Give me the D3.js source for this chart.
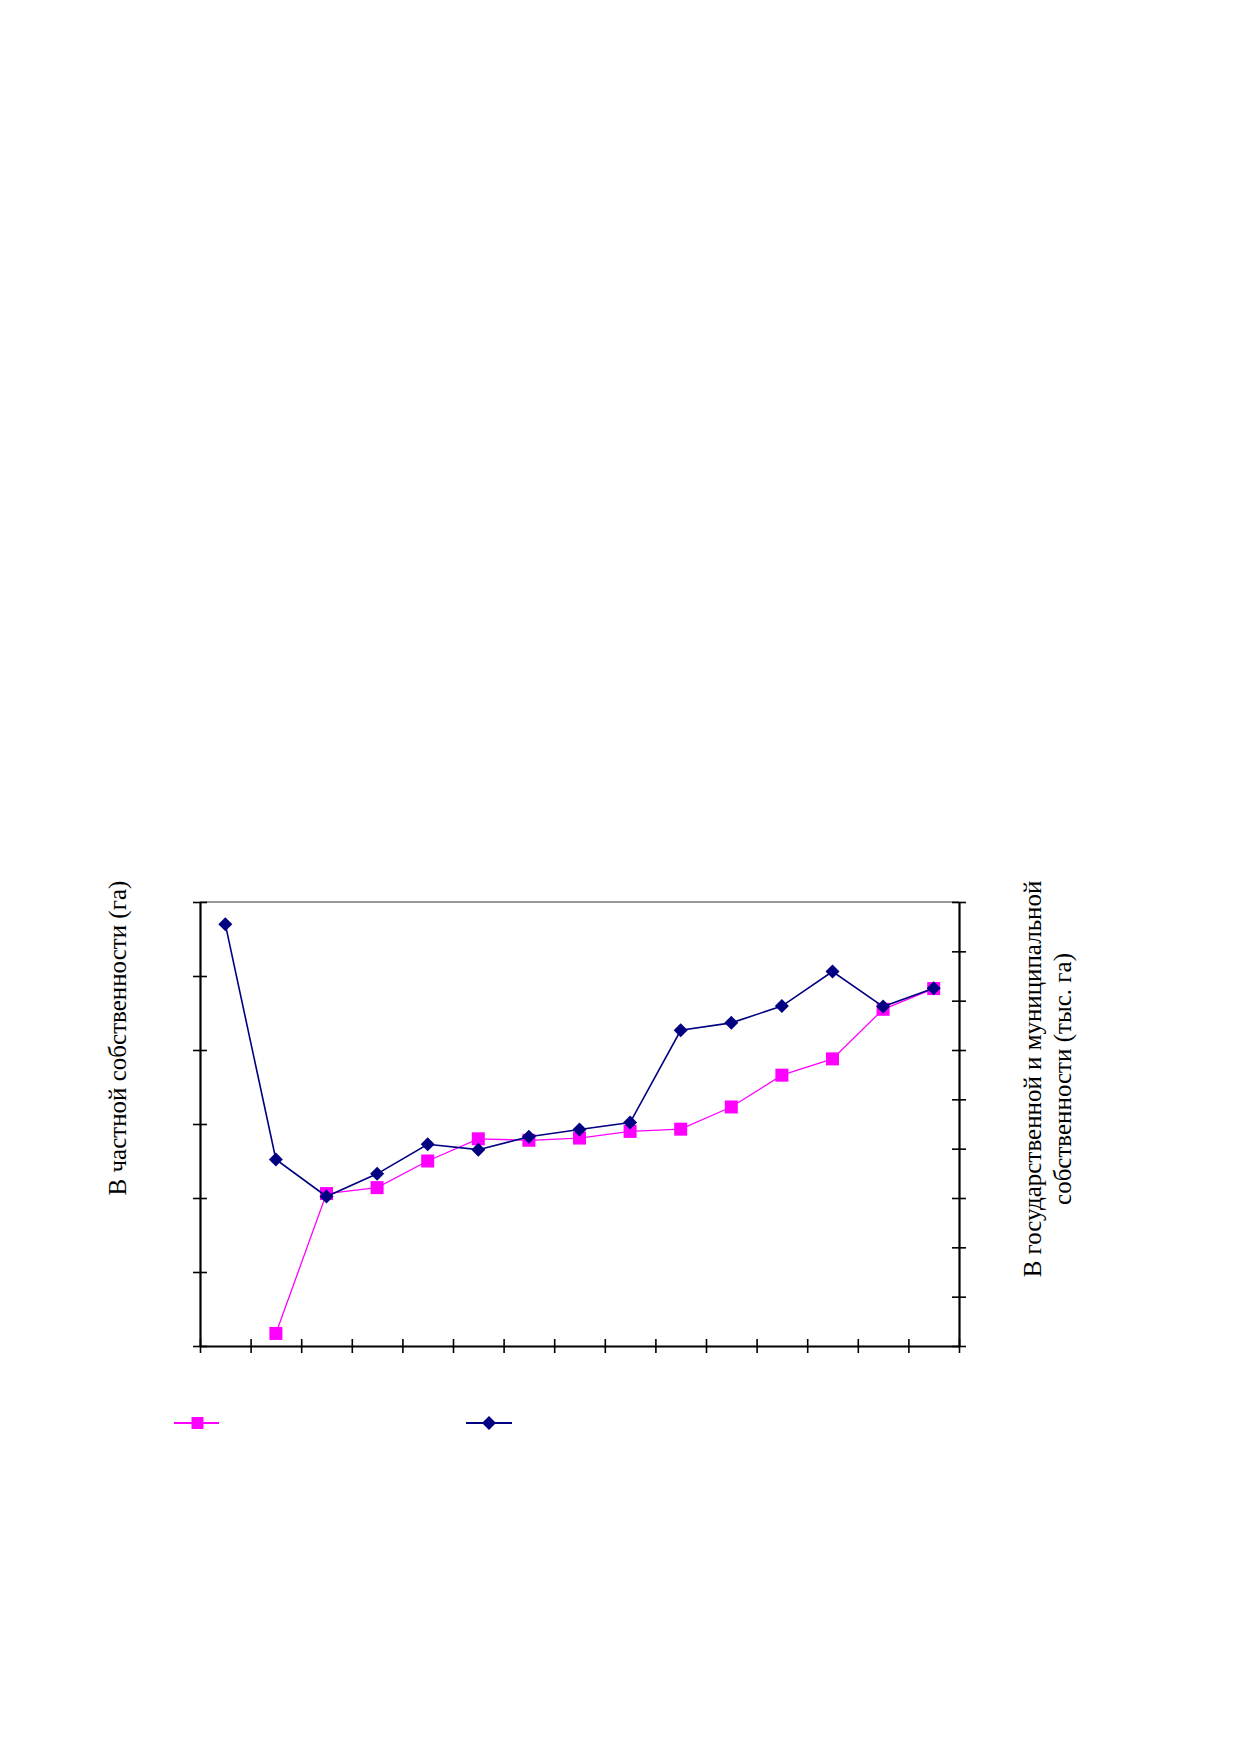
<!DOCTYPE html>
<html>
<head>
<meta charset="utf-8">
<script src="https://cdn.jsdelivr.net/npm/d3@7/dist/d3.min.js"></script>
<style>
  html, body { margin: 0; padding: 0; background: #fff; }
  svg { display: block; }
</style>
</head>
<body>
<svg id="chart" width="1240" height="1754"></svg>
<script>
// ---- data (axis tick labels are not shown in the reference) ----
const categories = [1, 2, 3, 4, 5, 6, 7, 8, 9, 10, 11, 12, 13, 14, 15];
// left axis: "В частной собственности (га)"  (magenta squares)
const privateValues = [null, 17, 206, 214, 250, 280, 278, 281, 290, 293, 323, 366, 388, 455, 483];
// right axis: "В государственной и муниципальной собственности (тыс. га)"  (navy diamonds)
const stateValues = [855, 378, 303, 349, 409, 398, 424, 439, 453, 640, 655, 689, 759, 688, 725];
const leftTicks = [0, 100, 200, 300, 400, 500, 600];
const rightTicks = [0, 100, 200, 300, 400, 500, 600, 700, 800, 900];
const leftTitle = "В частной собственности (га)";
const rightTitleLines = ["В государственной и муниципальной", "собственности (тыс. га)"];

// ---- layout ----
const svg = d3.select("#chart");
const L = 200, R = 959, T = 902, B = 1346;
const fontFamily = "'Liberation Serif', 'Times New Roman', 'DejaVu Serif', serif";

const x = d3.scaleBand().domain(categories).range([L, R]).paddingInner(0).paddingOuter(0);
const xEdge = d3.scaleLinear().domain([0, categories.length]).range([L, R]);
const yLeft = d3.scaleLinear().domain([0, 600]).range([B, T]);
const yRight = d3.scaleLinear().domain([0, 900]).range([B, T]);
const cx = d => x(d) + x.bandwidth() / 2;

// plot area top border
svg.append("line").attr("x1", L).attr("x2", R).attr("y1", T).attr("y2", T)
  .attr("stroke", "#333").attr("stroke-width", 1.2);

// axes
function crossTicks(g, horizontal) {
  g.selectAll(".tick line").each(function () {
    const s = d3.select(this);
    if (horizontal) s.attr("y1", -7).attr("y2", 7);
    else s.attr("x1", -7).attr("x2", 7);
  });
  g.selectAll(".tick text").remove();
  g.select(".domain").attr("stroke-width", 2.2).attr("stroke", "#000");
  g.selectAll(".tick line").attr("stroke-width", 1.6).attr("stroke", "#000");
}

const gx = svg.append("g").attr("transform", `translate(0,${B})`)
  .call(d3.axisBottom(xEdge).tickValues(d3.range(0, categories.length + 1)).tickSizeOuter(0).tickFormat(""));
crossTicks(gx, true);

const gl = svg.append("g").attr("transform", `translate(${L},0)`)
  .call(d3.axisLeft(yLeft).tickValues(leftTicks).tickSizeOuter(0).tickFormat(""));
crossTicks(gl, false);

const gr = svg.append("g").attr("transform", `translate(${R},0)`)
  .call(d3.axisRight(yRight).tickValues(rightTicks).tickSizeOuter(0).tickFormat(""));
crossTicks(gr, false);

// series: private (left axis)
const sq = 13;
const privData = categories.map((c, i) => ({ c, v: privateValues[i] })).filter(d => d.v != null);
svg.append("path").datum(privData)
  .attr("fill", "none").attr("stroke", "#FF00FF").attr("stroke-width", 1.3)
  .attr("d", d3.line().x(d => cx(d.c)).y(d => yLeft(d.v)));
svg.append("g").selectAll("rect").data(privData).join("rect")
  .attr("x", d => cx(d.c) - sq / 2).attr("y", d => yLeft(d.v) - sq / 2)
  .attr("width", sq).attr("height", sq).attr("fill", "#FF00FF");

// series: state & municipal (right axis)
const stateData = categories.map((c, i) => ({ c, v: stateValues[i] })).filter(d => d.v != null);
svg.append("path").datum(stateData)
  .attr("fill", "none").attr("stroke", "#000080").attr("stroke-width", 1.6)
  .attr("d", d3.line().x(d => cx(d.c)).y(d => yRight(d.v)));
const diamond = "M0,-7L7,0L0,7L-7,0Z";
svg.append("g").selectAll("path").data(stateData).join("path")
  .attr("transform", d => `translate(${cx(d.c)},${yRight(d.v)})`)
  .attr("d", diamond).attr("fill", "#000080");

// axis titles
svg.append("text")
  .attr("transform", `translate(126,1038) rotate(-90)`)
  .attr("text-anchor", "middle")
  .attr("font-family", fontFamily).attr("font-size", 25).attr("fill", "#000")
  .text(leftTitle);

svg.append("text")
  .attr("transform", `translate(1041,1079) rotate(-90)`)
  .attr("text-anchor", "middle")
  .attr("font-family", fontFamily).attr("font-size", 25).attr("fill", "#000")
  .selectAll("tspan").data(rightTitleLines).join("tspan")
  .attr("x", 0).attr("dy", (d, i) => i === 0 ? 0 : 30)
  .text(d => d);

// legend (markers only, as in the reference)
const legend = svg.append("g");
legend.append("line").attr("x1", 174).attr("x2", 219).attr("y1", 1423).attr("y2", 1423)
  .attr("stroke", "#FF00FF").attr("stroke-width", 1.8);
legend.append("rect").attr("x", 197.5 - 6).attr("y", 1423 - 6).attr("width", 12).attr("height", 12)
  .attr("fill", "#FF00FF");
legend.append("line").attr("x1", 466).attr("x2", 512).attr("y1", 1423).attr("y2", 1423)
  .attr("stroke", "#000080").attr("stroke-width", 1.8);
legend.append("path").attr("transform", "translate(489,1423)").attr("d", diamond).attr("fill", "#000080");
</script>
</body>
</html>
